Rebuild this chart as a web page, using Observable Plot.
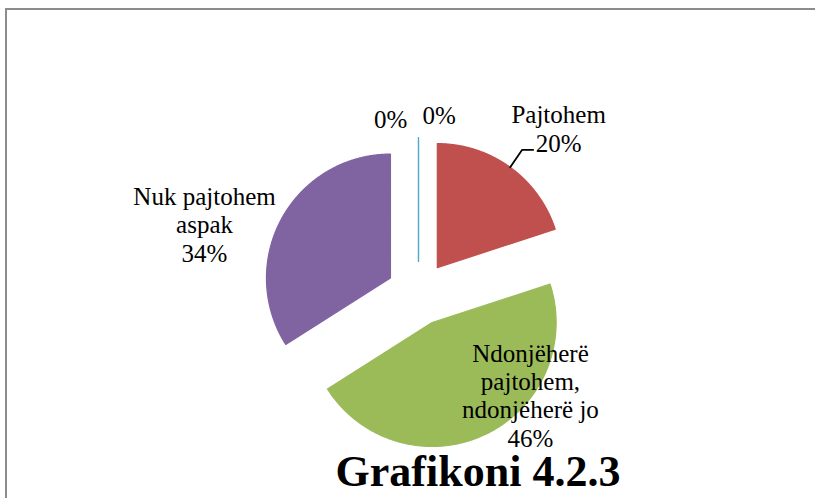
<!DOCTYPE html>
<html>
<head>
<meta charset="utf-8">
<script src="https://cdn.jsdelivr.net/npm/d3@7"></script>
<script src="https://cdn.jsdelivr.net/npm/@observablehq/plot@0.6"></script>
<style>
  html, body { margin: 0; padding: 0; background: #fff; }
  #wrap { position: relative; width: 817px; height: 498px; overflow: hidden; background: #fff; }
  #frame { position: absolute; left: 5px; top: 8px; width: 810px; height: 600px;
           border-top: 2px solid #8c8c8c; border-left: 2px solid #8c8c8c; box-sizing: border-box; }
  #chart { position: absolute; left: 0; top: 0; }
  #chart svg, #chart text { font-family: "Liberation Serif", "Times New Roman", serif !important; }
  #title { position: absolute; left: 0; width: 956px; top: 450px; text-align: center;
           font: bold 44px/44px "Liberation Serif", "Times New Roman", serif; color: #000; }
</style>
</head>
<body>
<div id="wrap">
  <div id="frame"></div>
  <div id="chart"></div>
  <div id="title">Grafikoni 4.2.3</div>
</div>
<script>
// ---- data ----
const categories = ["", "Pajtohem", "Ndonjëherë pajtohem, ndonjëherë jo", "Nuk pajtohem aspak", ""];
const labelLines = ["", "Pajtohem", "Ndonjëherë\npajtohem,\nndonjëherë jo", "Nuk pajtohem\naspak", ""];
const values = [0, 20, 46, 34, 0];
const colors = ["#4F81BD", "#C0504D", "#9BBB59", "#8064A2", "#4BACC6"];

// ---- layout ----
const W = 817, H = 498;
const cx = 418, cy = 293, R = 124, explodePx = 32;
const ex = explodePx / R;
// label placement (degrees clockwise from 12 o'clock, radius in pie radii, from pie centre)
const labelPlacement = [
  {angle: 6.6, radius: 1.448},
  {angle: 40.3, radius: 1.747},
  {angle: 132.2, radius: 1.219},
  {angle: 287.95, radius: 1.814},
  {angle: 350.9, radius: 1.424}
];

const total = d3.sum(values);
const arcs = d3.pie().sort(null).startAngle(0).endAngle(2 * Math.PI)(values);

const slicePts = [];
arcs.forEach((a, i) => {
  const mid = (a.startAngle + a.endAngle) / 2;
  const ax = ex * Math.sin(mid), ay = ex * Math.cos(mid);
  slicePts.push({i, x: ax, y: ay});
  const n = Math.max(1, Math.ceil((a.endAngle - a.startAngle) / 0.005));
  for (let k = 0; k <= n; k++) {
    const t = a.startAngle + (a.endAngle - a.startAngle) * k / n;
    slicePts.push({i, x: ax + Math.sin(t), y: ay + Math.cos(t)});
  }
});

const labels = arcs.map((a, i) => {
  const p = labelPlacement[i];
  const t = p.angle * Math.PI / 180;
  const pct = Math.round(values[i] / total * 100) + "%";
  return {
    i,
    x: p.radius * Math.sin(t),
    y: p.radius * Math.cos(t),
    text: labelLines[i] ? labelLines[i] + "\n" + pct : pct
  };
});

// leader line for "Pajtohem"
const la = arcs[1];
const lmid = (la.startAngle + la.endAngle) / 2;
const lx0 = (ex + 1) * Math.sin(lmid), ly0 = (ex + 1) * Math.cos(lmid);
const leader = [
  {x: lx0, y: ly0},
  {x: lx0 + 12 / R, y: ly0 + 17.5 / R},
  {x: lx0 + 23 / R, y: ly0 + 17.5 / R}
];

const chart = Plot.plot({
  width: W,
  height: H,
  margin: 0,
  x: {domain: [-cx / R, (W - cx) / R], axis: null},
  y: {domain: [-(H - cy) / R, cy / R], axis: null},
  color: {type: "ordinal", domain: d3.range(values.length), range: colors},
  style: {background: "transparent", overflow: "visible", fontFamily: "'Liberation Serif', 'Times New Roman', serif"},
  marks: [
    Plot.line(slicePts, {x: "x", y: "y", z: "i", fill: "i", stroke: "i", strokeWidth: 1.2, curve: "linear-closed"}),
    Plot.line(leader, {x: "x", y: "y", stroke: "#000", strokeWidth: 1.8}),
    Plot.text(labels, {
      x: "x", y: "y", text: "text",
      fontSize: 25, lineHeight: 1.133,
      fill: "#000", textAnchor: "middle"
    })
  ]
});
document.getElementById("chart").appendChild(chart);
</script>
</body>
</html>
